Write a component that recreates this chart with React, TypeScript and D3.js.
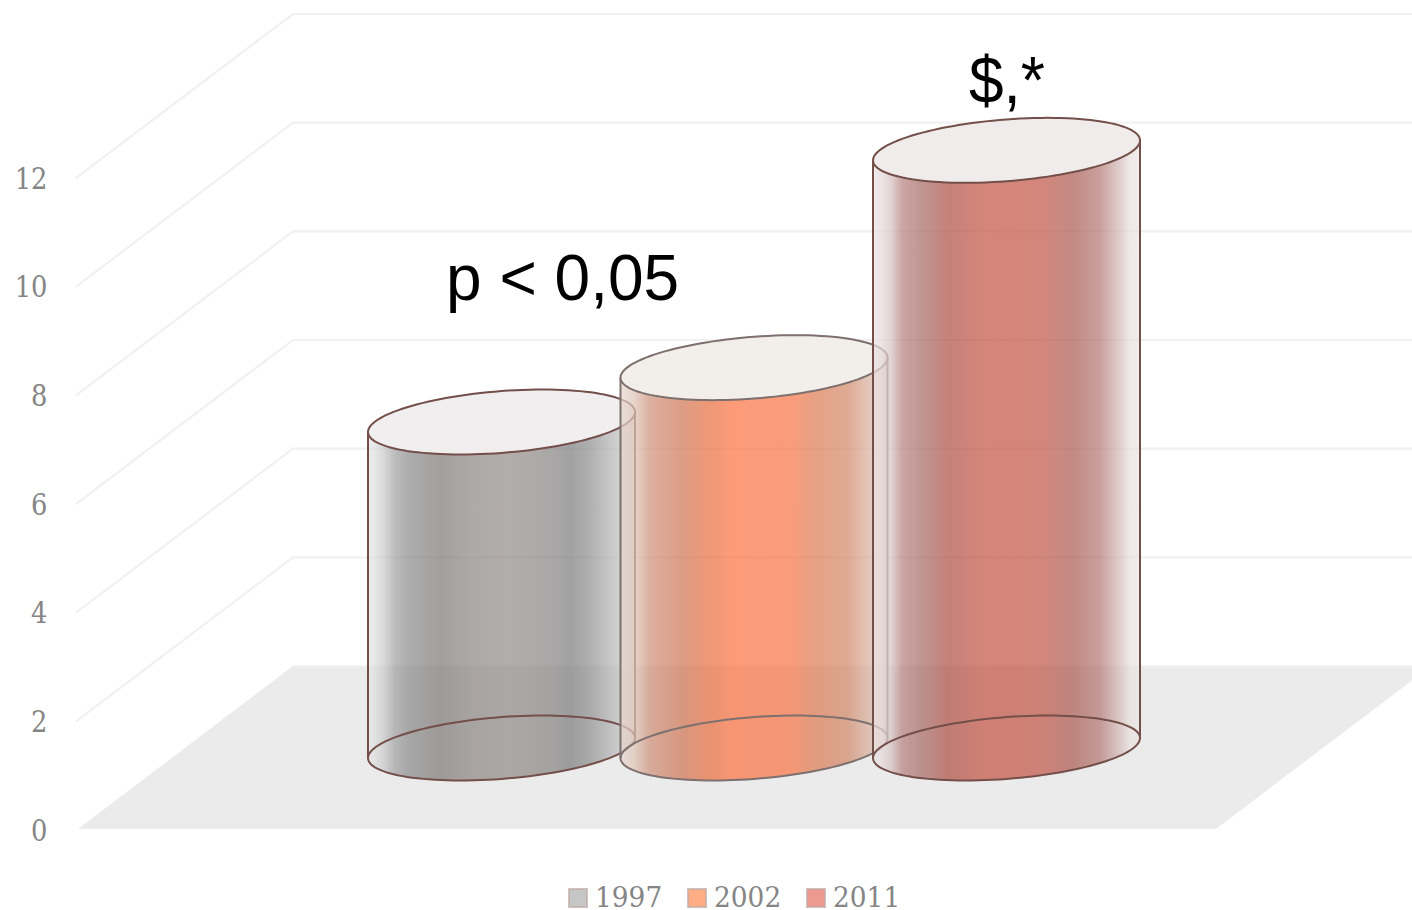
import React from "react";
import * as d3 from "d3";

const WIDTH = 1412;
const HEIGHT = 910;

const years = ["1997", "2002", "2011"];
const values = [6, 7, 11];
const yTicks = [0, 2, 4, 6, 8, 10, 12];
const swatchColors = ["#c6c6c6", "#ffad85", "#ec9a8f"];
const strokeColors = ["#744f4a", "#7d706e", "#744f4a"];
const capColors = ["#f0eeef", "#f2eeea", "#f1ecec"];

// Shaded colour across each cylinder, as seen over a white page: [offset, colour].
const shadeGray: [number, string][] = [
  [0, "#ececec"], [0.02, "#e9e9e9"], [0.06, "#d8d8d8"], [0.1, "#bcbcbc"],
  [0.15, "#adadad"], [0.27, "#a39f9e"], [0.4, "#aeaaa8"], [0.53, "#b1adab"],
  [0.68, "#aaa8a7"], [0.76, "#a3a2a3"], [0.83, "#b0afaf"], [0.91, "#c8c8c8"],
  [1, "#e4e2e2"],
];
const shadeOrange: [number, string][] = [
  [0, "#eee2dd"], [0.05, "#e8d5cc"], [0.11, "#dcb09f"], [0.235, "#dd9c84"],
  [0.33, "#ee9877"], [0.42, "#fd9b78"], [0.64, "#f99c7b"], [0.72, "#e8a083"],
  [0.85, "#deaa94"], [0.925, "#e3c5b8"], [1, "#e9e2df"],
];
const shadeRed: [number, string][] = [
  [0, "#f0eaea"], [0.03, "#ede4e4"], [0.065, "#e3d5d4"], [0.11, "#c9a6a3"],
  [0.18, "#c19692"], [0.28, "#c58279"], [0.42, "#d5857a"], [0.63, "#d3867b"],
  [0.75, "#c38a84"], [0.85, "#c9a09c"], [0.925, "#e0cfcd"], [0.96, "#eee7e6"],
  [1, "#f2eeee"],
];
const shades = [shadeGray, shadeOrange, shadeRed];

const BODY_ALPHA = 0.72;

// Undo the page-white blend so a translucent stop lands on the listed colour.
function translucentStop(color: string): string {
  const c = d3.rgb(color);
  const lift = (v: number) =>
    Math.max(0, Math.min(255, (v - 255 * (1 - BODY_ALPHA)) / BODY_ALPHA));
  return d3.rgb(lift(c.r), lift(c.g), lift(c.b)).formatHex();
}

// Oblique projection: the front edge of the plot and the depth offset to the back wall.
const y = d3.scaleLinear().domain([0, 12]).range([829, 177]);
const FRONT_LEFT = 78;
const FRONT_RIGHT = 1216;
const DEPTH_X = 215;
const DEPTH_Y = -163;

const xCenter = d3.scalePoint<string>().domain(years).range([501.5, 1006.5]);
const GROUND_Y = 748;
const RADIUS_X = 133.5;
const RADIUS_Y = 30.9;
const TILT = 10;

const ringPoint = (cx: number, cy: number, t: number): [number, number] => [
  cx + RADIUS_X * Math.cos(t),
  cy - TILT * Math.cos(t) + RADIUS_Y * Math.sin(t),
];

const lineGen = d3.line<[number, number]>();
const ringAngles = d3.range(0, 120).map((i) => (i / 120) * 2 * Math.PI);
const frontAngles = d3.range(0, 61).map((i) => (i / 60) * Math.PI);

function ringPath(cx: number, cy: number): string {
  return (lineGen(ringAngles.map((t) => ringPoint(cx, cy, t))) ?? "") + "Z";
}

// Side wall: along the near half of the top ring, then back along the near half of the base.
function wallPath(cx: number, topY: number, baseY: number): string {
  const topArc = frontAngles.map((t) => ringPoint(cx, topY, t));
  const baseArc = [...frontAngles].reverse().map((t) => ringPoint(cx, baseY, t));
  return (lineGen([...topArc, ...baseArc]) ?? "") + "Z";
}

const floorPoints: [number, number][] = [
  [FRONT_LEFT, y(0)],
  [FRONT_RIGHT, y(0)],
  [FRONT_RIGHT + DEPTH_X, y(0) + DEPTH_Y],
  [FRONT_LEFT + DEPTH_X, y(0) + DEPTH_Y],
];

const LABEL_FONT = "'DejaVu Serif', serif";
const NOTE_FONT = "'Liberation Sans', Arial, sans-serif";
const DIGIT_WIDTH = 16.4;
const LEGEND_DIGIT_WIDTH = 16.8;

const legendX = d3.scalePoint<string>().domain(years).range([568, 806]);

export default function App() {
  return (
    <svg
      width={WIDTH}
      height={HEIGHT}
      viewBox={`0 0 ${WIDTH} ${HEIGHT}`}
      style={{ position: "absolute", left: 0, top: 0, display: "block", overflow: "hidden" }}
    >
      <defs>
        {years.map((year, i) => (
          <linearGradient key={year} id={`wall-${year}`} x1="0" x2="1" y1="0" y2="0">
            {shades[i].map(([offset, color]) => (
              <stop
                key={offset}
                offset={offset}
                stopColor={translucentStop(color)}
                stopOpacity={BODY_ALPHA}
              />
            ))}
          </linearGradient>
        ))}
      </defs>

      <rect width={WIDTH} height={HEIGHT} fill="#ffffff" />

      <path d={(lineGen(floorPoints) ?? "") + "Z"} fill="#ebebeb" />

      {yTicks.map((tick) => {
        const label = String(tick);
        return (
          <g key={tick}>
            {tick > 0 && (
              <polyline
                points={`${FRONT_LEFT - 2},${y(tick) + 1} ${FRONT_LEFT + DEPTH_X},${y(tick) + DEPTH_Y} ${WIDTH},${y(tick) + DEPTH_Y}`}
                fill="none"
                stroke="#f1f1f1"
                strokeWidth={2.2}
              />
            )}
            {tick === 0 && (
              <line
                x1={FRONT_LEFT + DEPTH_X}
                x2={WIDTH}
                y1={y(tick) + DEPTH_Y}
                y2={y(tick) + DEPTH_Y}
                stroke="#f1f1f1"
                strokeWidth={1.5}
              />
            )}
            <text
              x={47.5 - label.length * DIGIT_WIDTH}
              y={y(tick) + 11.5}
              textLength={label.length * DIGIT_WIDTH}
              lengthAdjust="spacingAndGlyphs"
              fontFamily={LABEL_FONT}
              fontSize={29}
              fill="#858585"
            >
              {label}
            </text>
          </g>
        );
      })}

      {years.map((year, i) => {
        const cx = xCenter(year) as number;
        const topY = GROUND_Y - (y(0) - y(values[i]));
        return (
          <g key={year} stroke={strokeColors[i]} strokeWidth={2}>
            <path d={wallPath(cx, topY, GROUND_Y)} fill={`url(#wall-${year})`} stroke="none" />
            <path d={ringPath(cx, GROUND_Y)} fill="none" />
            <line x1={cx - RADIUS_X} x2={cx - RADIUS_X} y1={topY + TILT} y2={GROUND_Y + TILT} />
            <line x1={cx + RADIUS_X} x2={cx + RADIUS_X} y1={topY - TILT} y2={GROUND_Y - TILT} />
            <path d={ringPath(cx, topY)} fill={capColors[i]} />
          </g>
        );
      })}

      <text x={446} y={300} fontFamily={NOTE_FONT} fontSize={64} fill="#000000">
        p &lt; 0,05
      </text>
      <text
        x={969}
        y={103}
        textLength={76}
        lengthAdjust="spacingAndGlyphs"
        fontFamily={NOTE_FONT}
        fontSize={66}
        fill="#000000"
      >
        $,*
      </text>

      {years.map((year, i) => {
        const x0 = legendX(year) as number;
        return (
          <g key={year}>
            <rect
              x={x0 + 1}
              y={889}
              width={18}
              height={18}
              fill={swatchColors[i]}
              stroke="#bfa9a7"
              strokeWidth={2}
              strokeOpacity={0.7}
            />
            <text
              x={x0 + 27}
              y={906.5}
              textLength={year.length * LEGEND_DIGIT_WIDTH}
              lengthAdjust="spacingAndGlyphs"
              fontFamily={LABEL_FONT}
              fontSize={27}
              fill="#858585"
            >
              {year}
            </text>
          </g>
        );
      })}
    </svg>
  );
}
